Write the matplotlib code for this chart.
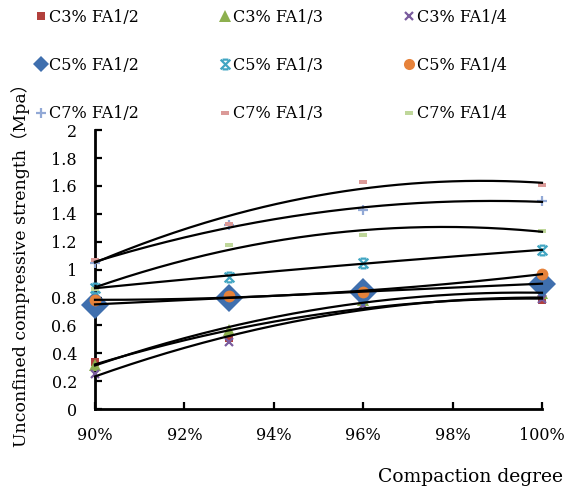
import numpy as np
import matplotlib
matplotlib.use("Agg")
import matplotlib.pyplot as plt
from matplotlib.path import Path
from matplotlib.lines import Line2D
from matplotlib.ticker import FuncFormatter, MultipleLocator

plt.rcParams['font.family'] = ['DejaVu Serif', 'Noto Sans CJK SC', 'DejaVu Sans']

# compaction degree (%)
grado = [90, 93, 96, 100]

# resistencias (MPa) por serie
c3_fa12 = [0.34, 0.51, 0.77, 0.78]
c3_fa13 = [0.32, 0.57, 0.78, 0.83]
c3_fa14 = [0.25, 0.48, 0.75, 0.79]
c5_fa12 = [0.75, 0.80, 0.84, 0.90]
c5_fa13 = [0.87, 0.95, 1.05, 1.14]
c5_fa14 = [0.78, 0.81, 0.84, 0.97]
c7_fa12 = [1.05, 1.32, 1.43, 1.49]
c7_fa13 = [1.07, 1.33, 1.63, 1.61]
c7_fa14 = [0.86, 1.18, 1.25, 1.28]

etiquetas = ['C3% FA1/2', 'C3% FA1/3', 'C3% FA1/4',
             'C5% FA1/2', 'C5% FA1/3', 'C5% FA1/4',
             'C7% FA1/2', 'C7% FA1/3', 'C7% FA1/4']

# marcadores personalizados
estrella = Path([(-1, -1), (1, 1), (-1, 1), (1, -1), (-0.6, 1), (0.6, 1), (-0.6, -1), (0.6, -1)],
                [Path.MOVETO, Path.LINETO] * 4)
raya = Path([(-1, -0.4), (1, -0.4), (1, 0.4), (-1, 0.4), (-1, -0.4)],
            [Path.MOVETO, Path.LINETO, Path.LINETO, Path.LINETO, Path.CLOSEPOLY])

series = [
    (c3_fa12, '#B2403C', 's', 6, 6),
    (c3_fa13, '#8DB04F', '^', 9, 9),
    (c3_fa14, '#7A5C9E', 'x', 5.5, 5.5),
    (c5_fa12, '#3F6FAE', 'D', 14, 8),
    (c5_fa13, '#40A5C2', estrella, 7, 7),
    (c5_fa14, '#E6823A', 'o', 8.5, 8),
    (c7_fa12, '#92A9D6', '+', 7, 7),
    (c7_fa13, '#DB9A98', raya, 6, 6),
    (c7_fa14, '#BFD79A', raya, 6, 6),
]

fig = plt.figure(figsize=(5.69, 4.90), dpi=100)
ax = fig.add_axes([0.167, 0.165, 0.7855, 0.5694])

xs = np.linspace(90, 100, 200)
handles = []
for (vals, color, mk, ms, msl), lab in zip(series, etiquetas):
    kw = dict(color=color, marker=mk, linestyle='none')
    if mk in ('x', '+') or mk is estrella:
        kw.update(markeredgewidth=1.6, markerfacecolor='none')
    else:
        kw.update(markeredgewidth=0)
    ax.plot(grado, vals, markersize=ms, zorder=3, clip_on=False, **kw)
    # tendencia polinómica de orden 2
    coef = np.polyfit(grado, vals, 2)
    ax.plot(xs, np.polyval(coef, xs), color='black', lw=1.6, zorder=4, clip_on=False)
    handles.append(Line2D([], [], markersize=msl, **kw))

ax.set_xlim(90, 100)
ax.set_ylim(0, 2)
ax.xaxis.set_major_locator(MultipleLocator(2))
ax.yaxis.set_major_locator(MultipleLocator(0.2))
ax.xaxis.set_major_formatter(FuncFormatter(lambda v, p: f"{v:.0f}%"))
ax.yaxis.set_major_formatter(FuncFormatter(lambda v, p: f"{v:g}"))
ax.tick_params(direction='in', length=5, width=1.6, labelsize=11.5)
ax.tick_params(axis='x', pad=13)
ax.tick_params(axis='y', pad=13)
for lado in ('top', 'right'):
    ax.spines[lado].set_visible(False)
for lado in ('left', 'bottom'):
    ax.spines[lado].set_linewidth(2)

ax.set_ylabel('Unconfined compressive strength（Mpa）', fontsize=12.5)
ax.yaxis.set_label_coords(-0.145, 0.53)
fig.text(0.99, 0.027, 'Compaction degree', fontsize=13.5, ha='right', va='center')

# leyenda en 3 columnas, rellenada por filas
orden = [0, 3, 6, 1, 4, 7, 2, 5, 8]
fig.legend([handles[i] for i in orden], [etiquetas[i] for i in orden],
           ncol=3, loc='upper left', bbox_to_anchor=(0.052, 0.995), frameon=False,
           fontsize=11.5, handlelength=0.6, handletextpad=0.2, columnspacing=5.1,
           labelspacing=1.95, borderaxespad=0)

fig.savefig('out.png', dpi=100)
